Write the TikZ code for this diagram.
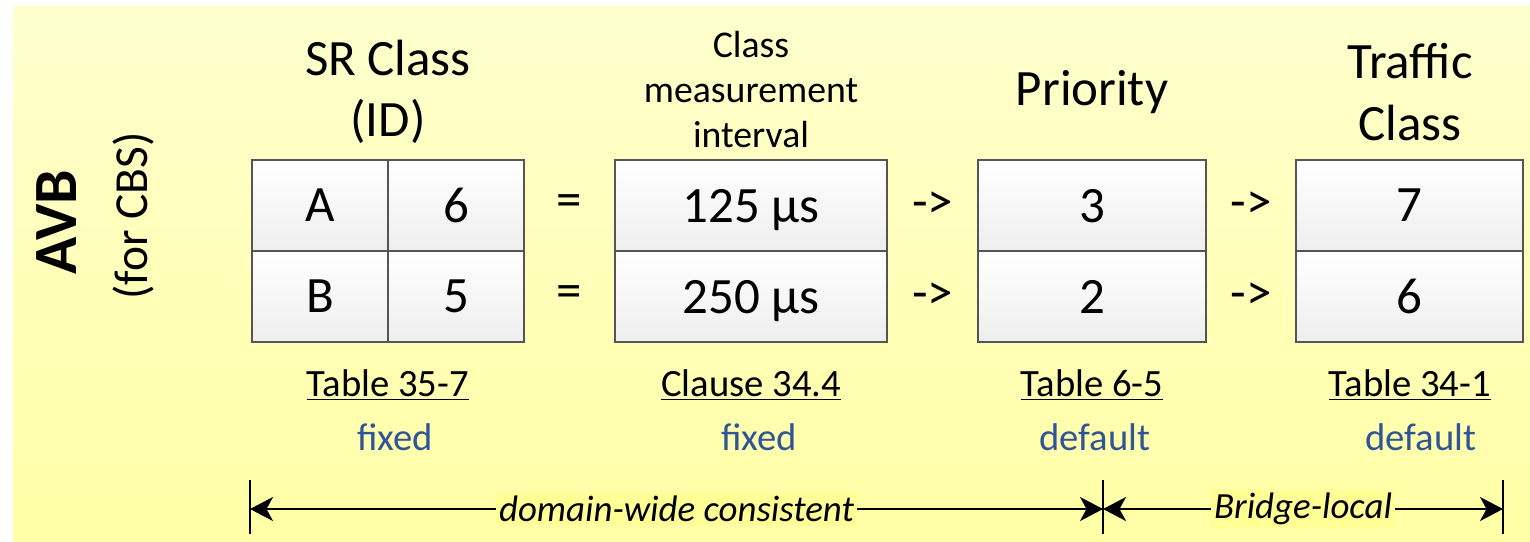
\documentclass[tikz,border=0pt]{standalone}
\usepackage{fontspec}
\setmainfont{Carlito}
\usetikzlibrary{positioning,calc,arrows.meta,shadings}
\definecolor{bgtop}{RGB}{255,255,206}
\definecolor{bgbot}{RGB}{255,255,166}
\definecolor{hilite}{RGB}{255,255,150}
\definecolor{cellline}{RGB}{85,85,85}
\definecolor{cellbot}{RGB}{238,238,238}
\definecolor{noteblue}{RGB}{47,85,151}

\begin{document}
\begin{tikzpicture}[x=0.02cm,y=-0.02cm,
    cell/.style={draw=cellline, line width=1.1pt, top color=white, bottom color=cellbot,
      minimum height=1.82cm, inner sep=0pt, outer sep=0pt, text depth=0pt,
      font=\fontsize{29}{35}\selectfont},
    head/.style={align=center, font=\fontsize{29}{35}\selectfont},
    subhead/.style={align=center, font=\fontsize{21.5}{25.6}\selectfont},
    sign/.style={font=\fontsize{29}{35}\selectfont},
    ref/.style={font=\fontsize{22}{26}\selectfont},
    note/.style={text=noteblue, font=\fontsize{22}{26}\selectfont},
    dimtext/.style={fill=hilite, inner sep=1.5pt, font=\fontsize{21}{25}\selectfont\itshape},
    dim/.style={{Stealth[length=0.46cm,width=0.48cm,inset=0.13cm]}-{Stealth[length=0.46cm,width=0.48cm,inset=0.13cm]}, line width=1.1pt}]
    \fill[white] (0,0) rectangle (1530,541);
    \shade[top color=bgtop, bottom color=bgbot] (13,6) rectangle (1530,541);
    \useasboundingbox (0,0) rectangle (1530,541);

    \node[rotate=90, font=\fontsize{35}{40}\selectfont\bfseries] (avb) at (57,222) {AVB};
    \node[rotate=90, font=\fontsize{27}{32}\selectfont] (cbs) at (133,216) {(for CBS)};

    \node[cell, minimum width=2.72cm] (srA) at (320,205.5) {A};
    \node[cell, minimum width=2.72cm, right=0pt of srA] (idA) {6};
    \node[cell, minimum width=2.72cm, below=0pt of srA] (srB) {B};
    \node[cell, minimum width=2.72cm, right=0pt of srB] (idB) {5};

    \node[cell, minimum width=5.44cm] (miA) at (751,205.5) {125 µs};
    \node[cell, minimum width=5.44cm, below=0pt of miA] (miB) {250 µs};

    \node[cell, minimum width=4.56cm] (prA) at (1092,205.5) {3};
    \node[cell, minimum width=4.56cm, below=0pt of prA] (prB) {2};

    \node[cell, minimum width=4.54cm] (tcA) at (1409.5,205.5) {7};
    \node[cell, minimum width=4.54cm, below=0pt of tcA] (tcB) {6};

    \node[sign] (eqA) at ($(idA.east)!.5!(miA.west)$) {=};
    \node[sign] (eqB) at ($(idB.east)!.5!(miB.west)$) {=};
    \node[sign] (toA) at ($(miA.east)!.5!(prA.west)$) {->};
    \node[sign] (toB) at ($(miB.east)!.5!(prB.west)$) {->};
    \node[sign] (tcaA) at ($(prA.east)!.5!(tcA.west)$) {->};
    \node[sign] (tcaB) at ($(prB.east)!.5!(tcB.west)$) {->};

    \node[head] (hsr) at (388,92) {SR Class\\(ID)};
    \node[subhead] (hmi) at (751,90) {Class\\measurement\\interval};
    \node[head] (hpr) at (1092,92) {Priority};
    \node[head] (htc) at (1410,92) {Traffic\\Class};

    \node[ref] (rsr) at (388,385) {\underline{Table 35-7}};
    \node[ref] (rmi) at (751,385) {\underline{Clause 34.4}};
    \node[ref] (rpr) at (1092,385) {\underline{Table 6-5}};
    \node[ref] (rtc) at (1410,385) {\underline{Table 34-1}};
    \node[note] (nsr) at (395,437) {fixed};
    \node[note] (nmi) at (759,437) {fixed};
    \node[note] (npr) at (1095,437) {default};
    \node[note] (ntc) at (1421,437) {default};

    \coordinate (d1) at (250,509);
    \coordinate (d2) at (1103,509);
    \coordinate (d3) at (1503,509);
    \foreach \c in {d1,d2,d3}
      \draw[line width=1.1pt] ($(\c)+(0,-29)$) -- ($(\c)+(0,25)$);
    \draw[dim] (d1) -- node[dimtext] (dwc) {domain-wide consistent} (d2);
    \draw[dim] (d2) -- node[dimtext] (bl) {Bridge-local} (d3);
\end{tikzpicture}
\end{document}
